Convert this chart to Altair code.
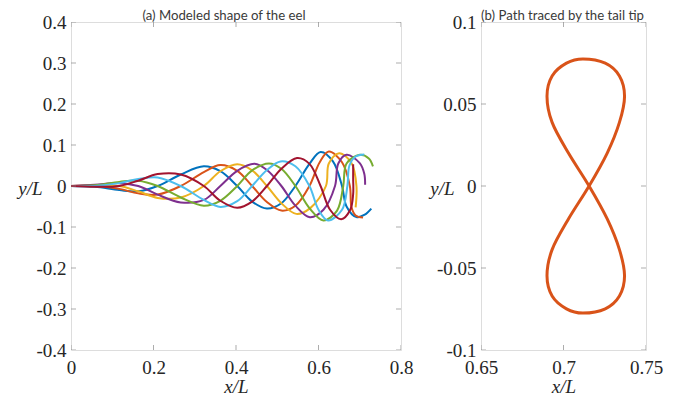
import altair as alt
import pandas as pd

# ---------------- Panel (a): modeled shape of the eel (7 snapshots) ----------------
BLUE_X = [0, .058, .117, .163, .210, .266, .322, .362, .403, .439, .475, .510, .544, .578, .605, .635, .657, .668, .692, .712, .728]
BLUE_Y = [0, -.002, -.010, -.013, 0, .028, .048, .036, 0, -.038, -.055, -.042, 0, .054, .083, .060, 0, -.050, -.076, -.070, -.055]

ORANGE_X = [0, .058, .117, .163, .210, .266, .322, .362, .403, .439, .475, .510, .544, .578, .603, .625, .657, .676, .680, .690, .708]
ORANGE_Y = [0, 0, -.007, -.018, -.021, 0, .034, .051, .037, 0, -.039, -.060, -.048, 0, .058, .084, .058, 0, -.052, -.072, -.077]

YELLOW_X = [0, .058, .117, .163, .210, .266, .322, .362, .403, .439, .475, .510, .546, .580, .618, .625, .650, .680, .692, .690]
YELLOW_Y = [0, .002, 0, -.013, -.029, -.028, 0, .036, .053, .038, 0, -.042, -.068, -.054, 0, .055, .080, .056, 0, -.052]

PURPLE_X = [0, .058, .117, .163, .210, .266, .322, .362, .403, .445, .475, .510, .544, .579, .612, .640, .648, .668, .700, .711, .713]
PURPLE_Y = [0, .003, .007, 0, -.021, -.040, -.034, 0, .037, .054, .039, 0, -.048, -.076, -.058, 0, .055, .076, .056, .030, .003]

GREEN_X = [0, .058, .117, .163, .210, .266, .322, .362, .403, .439, .480, .510, .544, .578, .612, .645, .660, .668, .700, .722, .732]
GREEN_Y = [0, .002, .010, .013, 0, -.028, -.048, -.036, 0, .038, .055, .042, 0, -.054, -.084, -.060, 0, .055, .076, .067, .048]

LIGHTBLUE_X = [0, .058, .117, .163, .210, .266, .322, .362, .403, .439, .475, .508, .544, .578, .600, .623, .657, .670, .675, .690, .711]
LIGHTBLUE_Y = [0, 0, .007, .017, .021, 0, -.034, -.051, -.037, 0, .039, .060, .048, 0, -.058, -.084, -.058, 0, .050, .072, .077]

DARKRED_X = [0, .058, .117, .163, .210, .266, .322, .362, .403, .439, .475, .510, .548, .578, .605, .628, .655, .677, .684, .684, .684]
DARKRED_Y = [0, -.002, 0, .013, .029, .028, 0, -.036, -.053, -.038, 0, .042, .068, .054, 0, -.058, -.081, -.058, -.020, .020, .053]

CURVE_NAMES = ["t1", "t2", "t3", "t4", "t5", "t6", "t7"]
CURVE_COLORS = ["#0072BD", "#D95319", "#EDB120", "#7E2F8E", "#77AC30", "#4DBEEE", "#A2142F"]

# ---------------- Panel (b): path traced by the tail tip ----------------
TIP_X = [.7155, .7265, .7339, .7370, .7339, .7253, .7118, .7018, .6931, .6900, .6931, .7030,
         .7155, .7265, .7339, .7370, .7339, .7253, .7118, .7018, .6931, .6900, .6931, .7030]
TIP_Y = [0, .0201, .0388, .0548, .0671, .0749, .0775, .0749, .0671, .0548, .0388, .0201,
         0, -.0201, -.0388, -.0548, -.0671, -.0749, -.0775, -.0749, -.0671, -.0548, -.0388, -.0201]

# ---------------- axes ----------------
A_XDOM = [0, 0.8]
A_YDOM = [-0.4, 0.4]
A_XTICKS = [0, 0.2, 0.4, 0.6, 0.8]
A_YTICKS = [-0.4, -0.3, -0.2, -0.1, 0, 0.1, 0.2, 0.3, 0.4]
B_XDOM = [0.65, 0.75]
B_YDOM = [-0.1, 0.1]
B_XTICKS = [0.65, 0.7, 0.75]
B_YTICKS = [-0.1, -0.05, 0, 0.05, 0.1]

SERIF = "Liberation Serif"
AXIS_COLOR = "#8a8a8a"
TEXT_COLOR = "#262626"
LABEL_EXPR = "datum.value < 0 ? '-' + format(-datum.value, '~g') : format(datum.value, '~g')"


def tick_frames(xt, yt, xdom, ydom):
    vert = pd.DataFrame({"x": list(xt) * 2, "y": [ydom[0]] * len(xt) + [ydom[1]] * len(xt)})
    horiz = pd.DataFrame({"x": [xdom[0]] * len(yt) + [xdom[1]] * len(yt), "y": list(yt) * 2})
    return vert, horiz


def panel(line_layer_fn, xdom, ydom, xt, yt, title, w, h, ytitle_x, title_dx):
    xscale = alt.Scale(domain=xdom, nice=False, zero=False)
    yscale = alt.Scale(domain=ydom, nice=False, zero=False)
    common = dict(domain=False, ticks=False, grid=False, labelExpr=LABEL_EXPR,
                  labelFont=SERIF, labelFontSize=19, labelColor=TEXT_COLOR,
                  labelFlush=False, labelOverlap=False, labelBound=False,
                  titleFont=SERIF, titleFontStyle="italic", titleFontWeight="normal",
                  titleFontSize=19, titleColor=TEXT_COLOR)
    xaxis = alt.Axis(values=xt, title="x/L", labelPadding=8, titleY=36,
                     titleBaseline="middle", titleAlign="center", **common)
    yaxis = alt.Axis(values=yt, title="y/L", labelPadding=5, titleAngle=0,
                     titleX=ytitle_x, titleY=h / 2 + 2, titleAlign="center",
                     titleBaseline="middle", **common)
    X = alt.X("x:Q", scale=xscale, axis=xaxis, title="x/L")
    Y = alt.Y("y:Q", scale=yscale, axis=yaxis, title="y/L")
    lines = line_layer_fn(X, Y)
    vert, horiz = tick_frames(xt, yt, xdom, ydom)
    vt = alt.Chart(vert).mark_tick(orient="vertical", size=10, thickness=1,
                                   color=AXIS_COLOR, clip=True).encode(x=X, y=Y)
    ht = alt.Chart(horiz).mark_tick(orient="horizontal", size=10, thickness=1,
                                    color=AXIS_COLOR, clip=True).encode(x=X, y=Y)
    return alt.layer(lines, vt, ht).properties(
        width=w, height=h,
        title=alt.TitleParams(title, font="Lato", fontSize=13.2, fontWeight="normal",
                              color="#3a3a3a", offset=-10, anchor="middle",
                              frame="group", dx=title_dx))


curves = []
for name, xs, ys in zip(CURVE_NAMES,
                        [BLUE_X, ORANGE_X, YELLOW_X, PURPLE_X, GREEN_X, LIGHTBLUE_X, DARKRED_X],
                        [BLUE_Y, ORANGE_Y, YELLOW_Y, PURPLE_Y, GREEN_Y, LIGHTBLUE_Y, DARKRED_Y]):
    curves.append(pd.DataFrame({"x": xs, "y": ys, "curve": name, "i": range(len(xs))}))
df_a = pd.concat(curves, ignore_index=True)
df_b = pd.DataFrame({"x": TIP_X, "y": TIP_Y, "i": range(len(TIP_X))})


def lines_a(x, y):
    return alt.Chart(df_a).mark_line(interpolate="catmull-rom", strokeWidth=2).encode(
        x=x, y=y,
        color=alt.Color("curve:N", scale=alt.Scale(domain=CURVE_NAMES, range=CURVE_COLORS), legend=None),
        detail="curve:N", order="i:Q")


def lines_b(x, y):
    return alt.Chart(df_b).mark_line(interpolate="cardinal-closed", strokeWidth=3,
                                     color="#D95319").encode(x=x, y=y, order="i:Q")


left = panel(lines_a, A_XDOM, A_YDOM, A_XTICKS, A_YTICKS,
             "(a) Modeled shape of the eel", 330, 328, -41, -12)
right = panel(lines_b, B_XDOM, B_YDOM, B_XTICKS, B_YTICKS,
              "(b) Path traced by the tail tip", 165, 328, -39, -1)

chart = alt.hconcat(left, right, spacing=15).properties(
    padding={"left": 9, "top": 0, "right": 5, "bottom": 5}
).configure_view(stroke=AXIS_COLOR, strokeWidth=1).configure(background="white")

chart.save("out.html", embed_options={"renderer": "svg", "actions": False})
